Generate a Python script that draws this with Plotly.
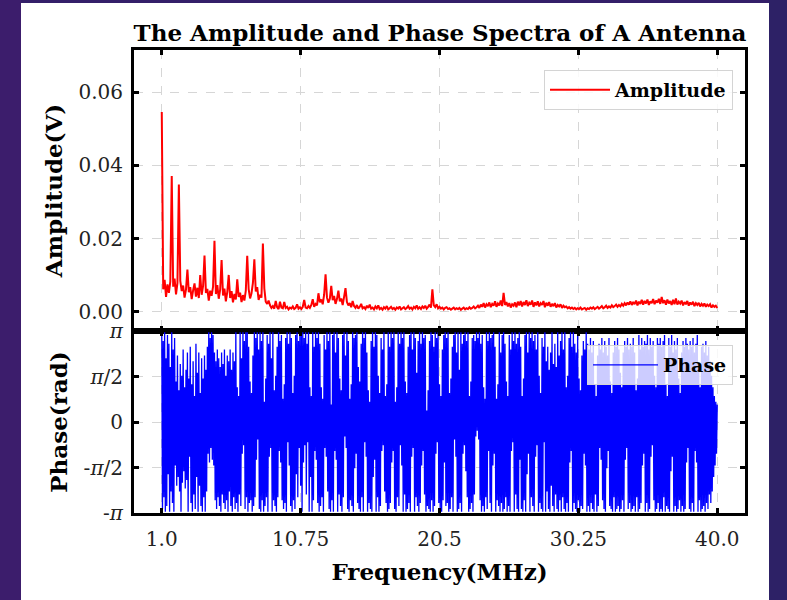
import numpy as np
import plotly.graph_objects as go

# ---------------- data ----------------
title_text = "The Amplitude and Phase Spectra of A Antenna"
x_title = "Frequency(MHz)"
amp_title = "Amplitude(V)"
phase_title = "Phase(rad)"

amp_freq_start_mhz = 1.0
amp_freq_step_mhz = 0.1
phase_freq_start_mhz = 1.0
phase_freq_step_mhz = 0.05

amplitude_v = [
    0.0546, 0.0062, 0.0088, 0.0041, 0.0075, 0.0052, 0.0083, 0.0371, 0.0069, 0.0091,
    0.0048, 0.0079, 0.0348, 0.0085, 0.0057, 0.0072, 0.0039, 0.0061, 0.0116, 0.0054,
    0.0068, 0.0035, 0.0059, 0.0078, 0.0042, 0.0066, 0.0038, 0.0101, 0.0047, 0.0071,
    0.0154, 0.0052, 0.0063, 0.0031, 0.0058, 0.0044, 0.0069, 0.0194, 0.0049, 0.0073,
    0.0036, 0.0061, 0.0142, 0.0045, 0.0064, 0.0029, 0.0055, 0.0101, 0.0038, 0.0057,
    0.0026, 0.0049, 0.0034, 0.0089, 0.0041, 0.0053, 0.0027, 0.0046, 0.0031, 0.0058,
    0.0153, 0.0062, 0.0037, 0.0051, 0.0079, 0.0144, 0.0056, 0.0068, 0.0033, 0.0047,
    0.0039, 0.0187, 0.0064, 0.0028, 0.0022, 0.0031, 0.0018, 0.0011, 0.0016, 0.0009,
    0.0030, 0.0013, 0.0008, 0.0028, 0.0012, 0.0010, 0.0027, 0.0011, 0.0014, 0.0007,
    0.0012, 0.0009, 0.0015, 0.0008, 0.0011, 0.0021, 0.0009, 0.0013, 0.0008, 0.0014,
    0.0033, 0.0012, 0.0010, 0.0016, 0.0011, 0.0019, 0.0035, 0.0014, 0.0022, 0.0018,
    0.0051, 0.0026, 0.0034, 0.0021, 0.0047, 0.0103, 0.0039, 0.0025, 0.0036, 0.0071,
    0.0032, 0.0044, 0.0022, 0.0035, 0.0058, 0.0029, 0.0037, 0.0019, 0.0041, 0.0065,
    0.0027, 0.0018, 0.0024, 0.0013, 0.0030, 0.0016, 0.0011, 0.0019, 0.0009, 0.0014,
    0.0022, 0.0010, 0.0013, 0.0008, 0.0017, 0.0011, 0.0020, 0.0009, 0.0012, 0.0007,
    0.0015, 0.0010, 0.0018, 0.0008, 0.0011, 0.0006, 0.0013, 0.0009, 0.0016, 0.0007,
    0.0010, 0.0014, 0.0008, 0.0011, 0.0006, 0.0012, 0.0009, 0.0015, 0.0007, 0.0010,
    0.0013, 0.0008, 0.0011, 0.0016, 0.0009, 0.0012, 0.0007, 0.0014, 0.0010, 0.0018,
    0.0009, 0.0013, 0.0008, 0.0015, 0.0011, 0.0017, 0.0009, 0.0014, 0.0020, 0.0012,
    0.0062, 0.0018, 0.0013, 0.0021, 0.0010, 0.0014, 0.0009, 0.0012, 0.0007, 0.0011,
    0.0013, 0.0008, 0.0010, 0.0006, 0.0009, 0.0012, 0.0007, 0.0010, 0.0008, 0.0011,
    0.0006, 0.0009, 0.0012, 0.0007, 0.0010, 0.0008, 0.0013, 0.0009, 0.0011, 0.0015,
    0.0010, 0.0013, 0.0017, 0.0011, 0.0020, 0.0014, 0.0024, 0.0012, 0.0021, 0.0016,
    0.0026, 0.0013, 0.0022, 0.0017, 0.0029, 0.0014, 0.0023, 0.0018, 0.0031, 0.0016,
    0.0052, 0.0019, 0.0027, 0.0015, 0.0024, 0.0012, 0.0021, 0.0017, 0.0026, 0.0013,
    0.0028, 0.0018, 0.0030, 0.0015, 0.0027, 0.0019, 0.0032, 0.0016, 0.0025, 0.0020,
    0.0031, 0.0014, 0.0026, 0.0018, 0.0029, 0.0015, 0.0024, 0.0019, 0.0030, 0.0013,
    0.0025, 0.0017, 0.0027, 0.0014, 0.0022, 0.0016, 0.0024, 0.0012, 0.0019, 0.0015,
    0.0021, 0.0011, 0.0017, 0.0013, 0.0015, 0.0010, 0.0013, 0.0009, 0.0012, 0.0008,
    0.0011, 0.0007, 0.0010, 0.0008, 0.0012, 0.0007, 0.0009, 0.0011, 0.0006, 0.0010,
    0.0008, 0.0012, 0.0009, 0.0013, 0.0008, 0.0011, 0.0014, 0.0009, 0.0012, 0.0016,
    0.0010, 0.0013, 0.0017, 0.0011, 0.0015, 0.0012, 0.0018, 0.0013, 0.0016, 0.0020,
    0.0014, 0.0019, 0.0015, 0.0022, 0.0017, 0.0024, 0.0018, 0.0026, 0.0020, 0.0029,
    0.0019, 0.0027, 0.0021, 0.0031, 0.0018, 0.0028, 0.0022, 0.0033, 0.0020, 0.0030,
    0.0023, 0.0034, 0.0019, 0.0029, 0.0024, 0.0035, 0.0021, 0.0031, 0.0025, 0.0036,
    0.0022, 0.0041, 0.0024, 0.0032, 0.0020, 0.0034, 0.0023, 0.0030, 0.0019, 0.0033,
    0.0021, 0.0037, 0.0020, 0.0028, 0.0023, 0.0031, 0.0018, 0.0027, 0.0021, 0.0030,
    0.0017, 0.0026, 0.0020, 0.0028, 0.0016, 0.0024, 0.0019, 0.0025, 0.0015, 0.0022,
    0.0017, 0.0023, 0.0014, 0.0020, 0.0016, 0.0021, 0.0012, 0.0018, 0.0014, 0.0017,
    0.0011,
]

# one row per MHz (20 samples per row, 0.05 MHz apart)
phase_rad = [
    3.1, -3.0, 2.8, -2.6, 3.1, -3.1, 2.2, -2.9, 3.0, -1.8, 2.7, -3.1, 1.9, -2.4, 3.1, -2.8, 2.5, -3.1, 2.9, -1.5,
    1.4, -2.2, 2.3, -1.9, 1.1, -2.4, 2.0, -3.1, 1.6, -2.1, 2.5, -1.7, 1.2, -2.3, 1.8, -2.0, 2.4, -3.1, 1.5, -1.2,
    2.6, -2.8, 1.3, -3.1, 2.1, -2.5, 0.9, -3.0, 2.7, -1.9, 1.7, -3.1, 2.4, -2.2, 1.0, -2.9, 2.2, -3.1, 1.5, -2.6,
    2.3, -3.1, 1.8, -2.4, 2.6, -1.1, 3.1, -1.4, 2.9, -0.9, 3.1, -1.3, 3.0, -1.5, 2.4, -2.7, 2.1, -3.0, 2.5, -2.6,
    2.2, -2.9, 1.9, -3.1, 2.4, -2.5, 2.0, -2.8, 2.5, -3.0, 1.6, -2.7, 2.3, -3.1, 2.1, -2.4, 2.5, -2.9, 1.8, -3.1,
    2.4, -2.6, 2.1, -3.0, 3.1, -2.8, 1.2, -3.1, 0.9, -2.5, 3.1, -2.9, 2.2, -1.1, 3.1, -0.8, 2.8, -3.0, 3.1, -2.6,
    3.1, -3.1, 2.6, -2.8, 1.4, -2.7, 1.0, -3.1, 2.3, -2.9, 3.1, -2.6, 2.9, -1.3, 3.1, -0.6, 2.5, -3.0, 3.1, -3.1,
    2.8, -2.7, 3.1, -3.1, 0.7, -2.9, 1.5, -2.6, 3.0, -3.1, 2.7, -1.2, 3.1, -0.9, 2.2, -3.1, 3.1, -2.7, 1.1, -2.9,
    1.6, -3.1, 2.6, -2.6, 3.1, -1.0, 2.8, -1.4, 3.0, -2.7, 0.8, -3.0, 1.3, -2.8, 2.9, -3.1, 3.1, -0.7, 2.7, -1.5,
    3.1, -2.9, 2.9, -3.1, 1.0, -2.7, 1.6, -3.0, 3.0, -1.8, 3.1, -2.6, 2.8, -0.9, 3.1, -2.2, 3.0, -3.1, 3.1, -1.4,
    2.9, -0.8, 3.1, -2.5, 2.7, -0.7, 3.1, -3.1, 1.2, -1.9, 0.9, -3.1, 3.1, -2.7, 2.6, -1.0, 3.1, -1.3, 2.9, -2.8,
    3.1, -3.1, 2.7, -2.9, 1.2, -2.6, 0.8, -3.1, 3.0, -0.9, 2.5, -1.2, 3.1, -2.4, 2.8, -3.0, 3.1, -3.1, 0.6, -2.7,
    3.0, -3.1, 3.1, -1.0, 2.4, -1.3, 3.1, -3.1, 2.9, -2.5, 1.5, -2.9, 1.1, -3.1, 3.0, -2.6, 3.1, -0.5, 2.3, -0.9,
    3.1, -3.0, 2.8, -3.1, 0.8, -2.7, 1.3, -2.9, 3.1, -3.1, 2.9, -1.6, 3.0, -1.1, 3.1, -2.8, 1.9, -3.0, 1.4, -3.1,
    2.7, -2.6, 3.1, -3.1, 2.9, -0.7, 3.1, -1.2, 2.4, -3.1, 1.1, -2.8, 0.7, -3.0, 2.8, -3.1, 3.1, -1.9, 2.6, -1.3,
    3.1, -3.1, 3.0, -2.6, 1.6, -3.1, 1.0, -2.9, 2.9, -1.0, 2.5, -0.8, 3.1, -2.4, 0.9, -2.8, 1.3, -3.1, 3.1, -3.0,
    2.6, -2.8, 3.1, -1.4, 2.9, -1.0, 3.1, -3.0, 0.7, -3.1, 1.2, -2.6, 3.1, -2.9, 2.7, -0.8, 3.1, -1.5, 2.9, -3.1,
    3.1, -2.5, 1.4, -3.1, 1.0, -3.0, 2.6, -2.8, 3.0, -3.1, 3.1, -1.2, 2.5, -0.9, 3.1, -3.1, 2.9, -2.6, 1.7, -2.9,
    2.8, -3.1, 3.1, -2.8, 2.7, -1.5, 3.1, -1.0, 2.9, -2.5, 3.0, -3.1, 0.4, -2.9, 1.1, -3.0, 2.8, -3.1, 3.1, -2.7,
    3.0, -3.1, 2.6, -2.9, 3.1, -1.1, 2.9, -0.7, 3.1, -2.8, 1.3, -3.0, 0.9, -3.1, 2.5, -2.7, 3.0, -1.4, 3.1, -2.9,
    2.9, -2.8, 3.1, -3.1, 1.0, -3.0, 1.5, -2.6, 2.6, -3.1, 3.0, -0.6, 3.1, -1.2, 2.4, -3.1, 3.1, -3.0, 1.8, -2.8,
    3.1, -3.1, 2.7, -1.1, 3.0, -0.8, 3.1, -1.7, 2.8, -2.6, 3.1, -3.1, 0.9, -3.0, 1.4, -2.8, 2.9, -3.1, 3.0, -2.5,
    2.8, -0.5, 3.1, -0.3, 2.9, -0.6, 3.1, -2.7, 2.7, -3.1, 3.0, -2.9, 1.2, -3.1, 0.8, -2.6, 3.1, -3.0, 2.8, -1.0,
    3.1, -2.8, 2.9, -3.1, 3.0, -1.5, 3.1, -1.1, 2.6, -3.1, 0.8, -2.7, 1.3, -2.9, 3.1, -3.1, 2.4, -2.8, 3.0, -3.1,
    3.1, -3.0, 2.7, -2.6, 1.4, -3.1, 0.9, -2.9, 3.0, -3.1, 2.5, -1.0, 3.1, -0.7, 2.8, -3.1, 3.1, -2.5, 2.7, -3.0,
    2.9, -3.1, 3.1, -1.3, 2.6, -3.0, 0.9, -3.1, 1.5, -2.7, 3.0, -3.1, 3.1, -1.8, 2.4, -1.1, 3.1, -3.1, 2.9, -2.6,
    3.1, -2.9, 2.8, -3.1, 3.0, -1.2, 2.5, -0.8, 3.1, -3.1, 1.6, -2.8, 1.0, -3.0, 2.9, -3.1, 2.6, -0.7, 3.1, -3.1,
    2.1, -2.4, 2.6, -3.0, 1.8, -3.1, 2.4, -2.2, 3.1, -2.9, 2.0, -3.1, 2.7, -2.5, 1.9, -3.0, 3.1, -3.1, 2.3, -2.7,
    2.8, -3.1, 3.1, -2.6, 2.5, -3.0, 3.1, -3.1, 1.2, -2.8, 1.6, -3.1, 2.9, -1.4, 3.1, -1.0, 2.6, -3.1, 3.1, -2.8,
    2.7, -3.0, 2.4, -3.1, 3.0, -2.7, 1.5, -3.1, 1.1, -2.9, 2.3, -3.0, 2.8, -1.1, 2.5, -1.5, 3.1, -3.1, 2.7, -2.9,
    2.5, -3.1, 2.9, -2.8, 2.4, -3.0, 2.8, -3.1, 1.3, -2.5, 0.9, -3.1, 2.3, -2.9, 2.7, -0.9, 2.5, -1.3, 2.9, -2.7,
    2.4, -3.0, 2.8, -3.1, 2.6, -1.6, 2.3, -1.0, 2.9, -2.9, 1.4, -3.0, 1.0, -3.1, 2.4, -2.6, 2.8, -3.1, 2.6, -3.0,
    2.9, -2.9, 2.5, -3.1, 1.7, -3.0, 1.2, -2.7, 2.4, -3.1, 2.8, -1.3, 2.6, -0.9, 2.9, -3.0, 2.5, -2.8, 2.7, -3.1,
    2.6, -3.0, 2.9, -2.9, 2.4, -3.1, 1.1, -2.6, 1.5, -3.1, 3.0, -3.0, 2.5, -2.8, 2.9, -1.5, 2.6, -1.1, 2.8, -3.1,
    2.7, -2.8, 3.0, -3.1, 2.5, -3.0, 2.9, -1.2, 2.6, -0.8, 2.8, -2.7, 1.6, -3.1, 1.2, -3.0, 2.9, -2.8, 2.7, -3.1,
    2.9, -3.0, 2.6, -3.1, 2.8, -2.6, 3.0, -3.1, 1.3, -2.9, 0.9, -3.0, 2.9, -3.1, 2.6, -1.7, 3.0, -1.2, 2.4, -3.1,
    2.8, -2.9, 2.5, -3.1, 2.9, -3.0, 1.5, -2.7, 1.0, -3.1, 2.4, -2.9, 2.8, -3.1, 2.6, -3.0, 2.9, -1.4, 2.7, -0.9,
    2.5, -3.0, 2.8, -3.1, 2.6, -2.8, 2.9, -3.1, 2.4, -1.0, 2.7, -1.4, 3.0, -3.1, 1.8, -2.7, 1.2, -3.1, 2.6, -3.0,
    2.7, -2.9, 2.4, -3.1, 2.8, -2.8, 2.3, -3.0, 2.6, -2.5, 2.1, -2.8, 1.6, -2.4, 1.2, -1.9, 0.9, -1.5, 0.7, -1.1,
    0.6,
]

amp_frequency_mhz = [round(amp_freq_start_mhz + amp_freq_step_mhz * k, 3) for k in range(len(amplitude_v))]
phase_frequency_mhz = [round(phase_freq_start_mhz + phase_freq_step_mhz * k, 3) for k in range(len(phase_rad))]

x_tick_vals = [1.0, 10.75, 20.5, 30.25, 40.0]
x_tick_text = ["1.0", "10.75", "20.5", "30.25", "40.0"]
amp_tick_vals = [0.0, 0.02, 0.04, 0.06]
phase_tick_vals = [-np.pi, -np.pi / 2, 0.0, np.pi / 2, np.pi]
phase_tick_text = ["-<i>π</i>", "-<i>π</i>/2", "0", "<i>π</i>/2", "<i>π</i>"]

# ---------------- layout geometry (pixels of a 787x600 page) ----------------
W, H = 787, 600
def fx(p):
    return p / W
def fy(p):
    return 1 - p / H

x_dom = [fx(134), fx(745)]
top_dom = [fy(331), fy(50)]
bot_dom = [fy(513), fy(331)]

SERIF = "DejaVu Serif"

fig = go.Figure()
fig.add_trace(go.Scatter(
    x=amp_frequency_mhz, y=amplitude_v, mode="lines", name="Amplitude",
    line=dict(color="#ff0000", width=2, simplify=False), xaxis="x", yaxis="y", legend="legend",
))
fig.add_trace(go.Scatter(
    x=phase_frequency_mhz, y=phase_rad, mode="lines", name="Phase",
    line=dict(color="#0000ff", width=1.3, simplify=False), xaxis="x2", yaxis="y2", legend="legend2",
))

axis_common = dict(
    showline=True, linecolor="black", linewidth=3, mirror="ticks",
    ticks="inside", ticklen=5, tickwidth=3, tickcolor="black",
    showgrid=True, gridcolor="#d6d6d6", griddash="dash", gridwidth=1,
    zeroline=False, automargin=False,
    tickfont=dict(family=SERIF, size=20, color="#222222"),
)

fig.update_layout(
    width=W, height=H, autosize=False,
    margin=dict(l=0, r=0, t=0, b=0),
    paper_bgcolor="#341f69", plot_bgcolor="white",
    showlegend=True,
    title=dict(text=title_text, x=fx(440), xanchor="center", y=fy(33), yanchor="middle",
               font=dict(family=SERIF, size=23, color="black", weight="bold")),
    xaxis=dict(domain=x_dom, anchor="y", range=[-0.95, 41.95],
               tickvals=x_tick_vals, showticklabels=False, **axis_common),
    yaxis=dict(domain=top_dom, anchor="x", range=[-0.0052, 0.0715],
               tickvals=amp_tick_vals, tickformat=".2f", ticklabelstandoff=4,
               title=dict(text=amp_title, standoff=10,
                          font=dict(family=SERIF, size=23, color="black", weight="bold")),
               **axis_common),
    xaxis2=dict(domain=x_dom, anchor="y2", range=[-0.95, 41.95], matches="x",
                tickvals=x_tick_vals, ticktext=x_tick_text, ticklabelstandoff=6,
                title=dict(text=x_title, standoff=14,
                           font=dict(family=SERIF, size=23, color="black", weight="bold")),
                **axis_common),
    yaxis2=dict(domain=bot_dom, anchor="x2", range=[-np.pi, np.pi],
                tickvals=phase_tick_vals, ticktext=phase_tick_text, ticklabelstandoff=4,
                title=dict(text=phase_title, standoff=10,
                           font=dict(family=SERIF, size=23, color="black", weight="bold")),
                **axis_common),
    legend=dict(x=fx(733), xanchor="right", y=fy(70), yanchor="top", itemwidth=60,
                bgcolor="rgba(255,255,255,0.85)", bordercolor="#d4d4d4", borderwidth=1,
                font=dict(family=SERIF, size=19, color="black", weight="bold")),
    legend2=dict(x=fx(733), xanchor="right", y=fy(345), yanchor="top", itemwidth=65,
                 bgcolor="rgba(255,255,255,0.8)", bordercolor="#d4d4d4", borderwidth=1,
                 font=dict(family=SERIF, size=19, color="black", weight="bold")),
    shapes=[
        dict(type="rect", xref="paper", yref="paper", x0=0, x1=fx(21), y0=0, y1=1,
             fillcolor="#3c1d6c", line=dict(width=0), layer="below"),
        dict(type="rect", xref="paper", yref="paper", x0=fx(769), x1=1, y0=0, y1=1,
             fillcolor="#2d2166", line=dict(width=0), layer="below"),
        dict(type="rect", xref="paper", yref="paper", x0=fx(21), x1=fx(769), y0=0, y1=fy(3),
             fillcolor="white", line=dict(width=0), layer="below"),
    ],
)

fig.write_html("out.html")
